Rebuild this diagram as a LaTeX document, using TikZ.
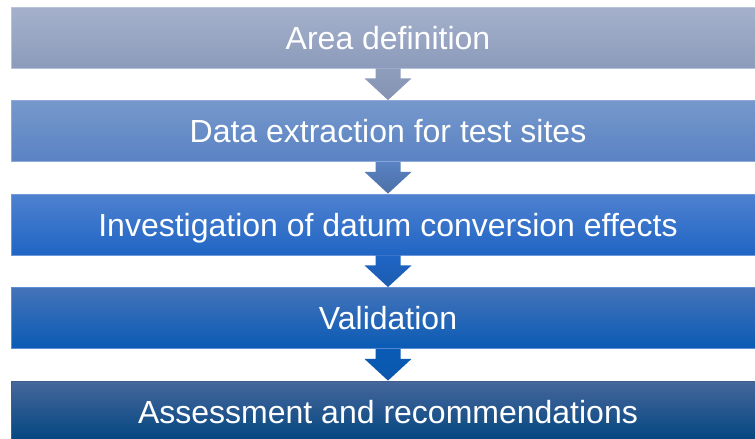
\documentclass[tikz,border=0pt]{standalone}
\usepackage{fontspec}
\setmainfont{Liberation Sans}
\usetikzlibrary{calc}

% stage colours (top / bottom of each band)
\definecolor{sAtop}{HTML}{A5B1CC}
\definecolor{sAbot}{HTML}{8C9BBB}
\definecolor{sAedge}{HTML}{B7C3D9}
\definecolor{sBtop}{HTML}{7698CC}
\definecolor{sBbot}{HTML}{5A83C3}
\definecolor{sBedge}{HTML}{8FAADA}
\definecolor{sCtop}{HTML}{4F81D0}
\definecolor{sCbot}{HTML}{1F65C4}
\definecolor{sCedge}{HTML}{6E98DA}
\definecolor{sDtop}{HTML}{4473B9}
\definecolor{sDbot}{HTML}{0A5BB5}
\definecolor{sDedge}{HTML}{5D8ED4}
\definecolor{sEtop}{HTML}{46679C}
\definecolor{sEbot}{HTML}{01457F}
\definecolor{sEedge}{HTML}{3E5E90}

\tikzset{
  stagebar/.style={rectangle, minimum width=754pt, minimum height=61pt,
    inner sep=0pt, text=white, font=\fontsize{32}{38}\selectfont,
    text height=23pt, text depth=0pt, line width=0.8pt},
}

% block arrow from the bottom of one band to the top of the next
\newcommand{\stagearrow}[4]{%
  \shade[top color=#3, bottom color=#4]
    ($(#1.south)+(-12.5,0)$) -- ($(#1.south)+(12.5,0)$)
    -- ($(#1.south)+(12.5,10)$) -- ($(#1.south)+(23.5,10)$)
    -- (#2.north)
    -- ($(#1.south)+(-23.5,10)$) -- ($(#1.south)+(-12.5,10)$) -- cycle;}

\begin{document}
\begin{tikzpicture}[x=1pt,y=-1pt]
  \path[clip, use as bounding box] (0,0) rectangle (755,439);

  \node[stagebar, top color=sAtop, bottom color=sAbot, draw=sAedge]
    (s1) at (388,37.5) {Area definition};
  \node[stagebar, top color=sBtop, bottom color=sBbot, draw=sBedge]
    (s2) at (388,131) {Data extraction for test sites};
  \node[stagebar, top color=sCtop, bottom color=sCbot, draw=sCedge]
    (s3) at (388,224.5) {Investigation of datum conversion effects};
  \node[stagebar, top color=sDtop, bottom color=sDbot, draw=sDedge]
    (s4) at (388,318) {Validation};
  \node[stagebar, top color=sEtop, bottom color=sEbot, draw=sEedge]
    (s5) at (388,411.5) {Assessment and recommendations};

  \stagearrow{s1}{s2}{sAbot!90!sAtop}{sAbot!95!black}
  \stagearrow{s2}{s3}{sBbot}{sBbot!85!black}
  \stagearrow{s3}{s4}{sCbot}{sCbot!90!black}
  \stagearrow{s4}{s5}{sDbot}{sDbot!95!black}
\end{tikzpicture}
\end{document}
